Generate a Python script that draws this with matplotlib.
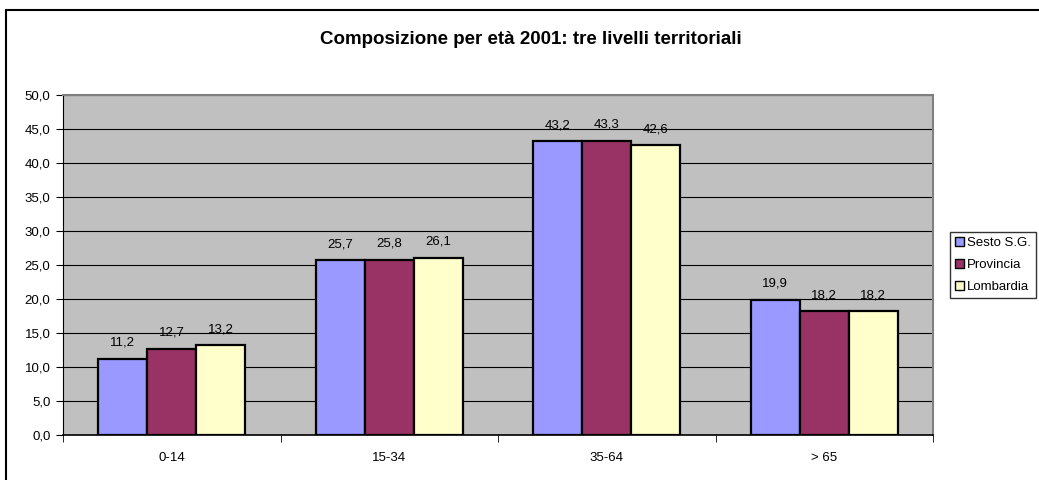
import numpy as np
import matplotlib

matplotlib.use("Agg")
import matplotlib.pyplot as plt
from matplotlib.patches import Rectangle

plt.rcParams["font.family"] = ["Liberation Sans", "DejaVu Sans"]

categories = ["0-14", "15-34", "35-64", "> 65"]
series = ["Sesto S.G.", "Provincia", "Lombardia"]
sesto = [11.2, 25.7, 43.2, 19.9]
provincia = [12.7, 25.8, 43.3, 18.2]
lombardia = [13.2, 26.1, 42.6, 18.2]
colors = ["#9999FF", "#993366", "#FFFFCC"]
title = "Composizione per età 2001: tre livelli territoriali"


def fmt(v):
    return f"{v:.1f}".replace(".", ",")


fig = plt.figure(figsize=(10.39, 4.80), dpi=100)
W, H = 1039, 480
# outer chart border (clipped on right/bottom like the original)
fig.patches.append(Rectangle((6 / W, -0.05), 1.1, 1 - 10 / H + 0.05,
                             transform=fig.transFigure, fill=False,
                             edgecolor="black", linewidth=1.5))

ax = fig.add_axes([63 / W, 1 - 435 / H, (933 - 63) / W, (435 - 95) / H])
ax.set_facecolor("#C0C0C0")

x = np.arange(len(categories))
bw = 0.225
for i, (vals, col, name) in enumerate(zip([sesto, provincia, lombardia], colors, series)):
    pos = x + (i - 1) * bw
    ax.bar(pos, vals, width=bw, color=col, edgecolor="black", linewidth=1.6,
           label=name, zorder=3)
    for px, v in zip(pos, vals):
        ax.text(px, v + 1.5, fmt(v), ha="center", va="bottom", fontsize=9.5, zorder=4)

ax.set_xlim(-0.5, len(categories) - 0.5)
ax.set_ylim(0, 50)
ax.set_yticks(np.arange(0, 51, 5))
ax.set_yticklabels([fmt(v) for v in np.arange(0, 51, 5)], fontsize=9.5)
ax.yaxis.grid(True, color="black", linewidth=0.8, zorder=1)
ax.set_axisbelow(True)

ax.set_xticks(x)
ax.set_xticklabels(categories, fontsize=9.5)
ax.tick_params(axis="x", length=0, pad=12)
ax.set_xticks(np.arange(-0.5, len(categories)), minor=True)
ax.tick_params(axis="x", which="minor", length=5, direction="out")
ax.tick_params(axis="y", length=5, direction="out", pad=4)

for side in ["top", "right"]:
    ax.spines[side].set_color("#808080")
    ax.spines[side].set_linewidth(1.5)
ax.spines["left"].set_color("black")
ax.spines["bottom"].set_color("black")
ax.spines["bottom"].set_linewidth(1.2)

fig.text(531 / W, 1 - 40 / H, title, ha="center", va="center",
         fontsize=13.5, fontweight="bold")

leg = fig.legend(loc="center", bbox_to_anchor=(993 / W, 1 - 265 / H),
                 fontsize=9.5, frameon=True, fancybox=False, handlelength=0.65,
                 handleheight=0.65, handletextpad=0.2, borderpad=0.4,
                 labelspacing=0.75, borderaxespad=0)
leg.get_frame().set_edgecolor("black")
leg.get_frame().set_linewidth(1.0)
for h in leg.legend_handles:
    h.set_linewidth(1.0)

fig.savefig("out.png", dpi=100)
